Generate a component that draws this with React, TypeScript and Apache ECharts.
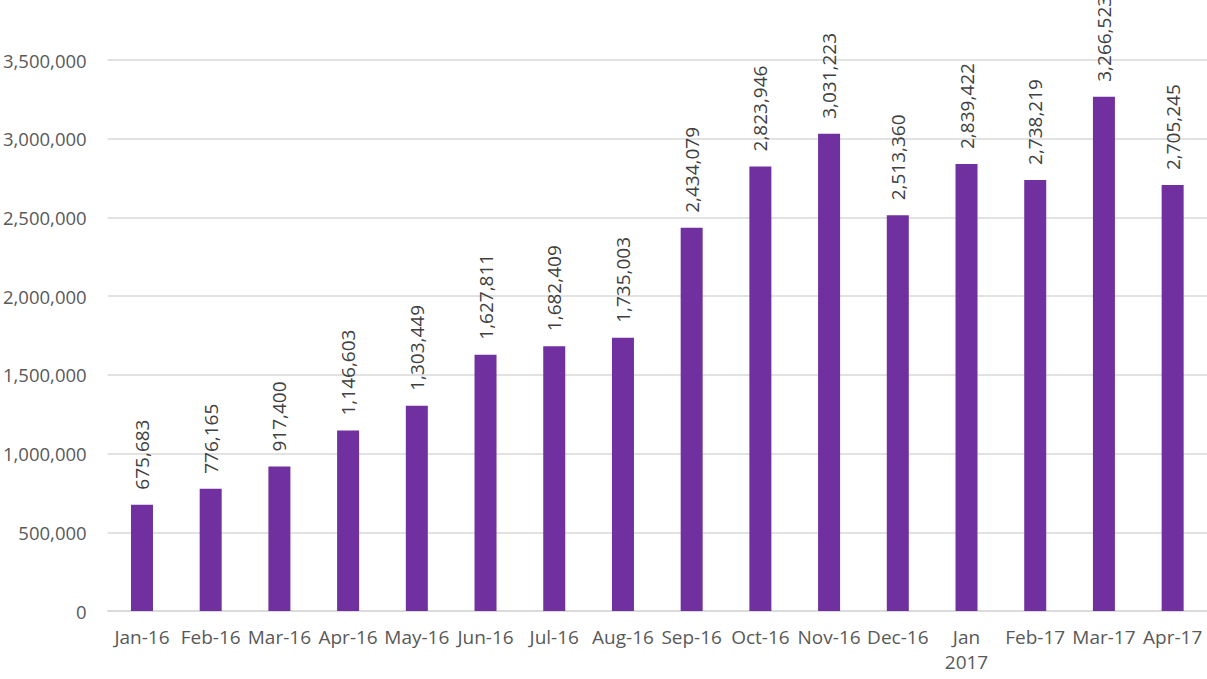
import React, { useEffect, useRef } from "react";
import * as echarts from "echarts";

const categories = [
  "Jan-16", "Feb-16", "Mar-16", "Apr-16", "May-16", "Jun-16", "Jul-16", "Aug-16",
  "Sep-16", "Oct-16", "Nov-16", "Dec-16", "Jan\n2017", "Feb-17", "Mar-17", "Apr-17",
];
const values = [
  675683, 776165, 917400, 1146603, 1303449, 1627811, 1682409, 1735003,
  2434079, 2823946, 3031223, 2513360, 2839422, 2738219, 3266523, 2705245,
];
const yMin = 0;
const yMax = 3500000;
const yStep = 500000;

const FONT = "'Open Sans', 'Noto Sans', sans-serif";

export default function App() {
  const ref = useRef<HTMLDivElement>(null);
  useEffect(() => {
    if (!ref.current) return;
    const chart = echarts.init(ref.current, undefined, { renderer: "svg" });
    const fmt = (v: number) => v.toLocaleString("en-US");
    chart.setOption({
      animation: false,
      grid: { left: 106, right: 0, top: 60, bottom: 68, containLabel: false },
      xAxis: {
        type: "category",
        data: categories,
        axisLine: { show: true, lineStyle: { color: "#d9d9d9", width: 1.5 } },
        axisTick: { show: false },
        axisLabel: {
          color: "#595959",
          fontFamily: FONT,
          fontSize: 19,
          margin: 13,
          interval: 0,
          lineHeight: 25,
        },
      },
      yAxis: {
        type: "value",
        min: yMin,
        max: yMax,
        interval: yStep,
        axisLine: { show: false },
        axisTick: { show: false },
        splitLine: { lineStyle: { color: "#d9d9d9", width: 1.5 } },
        axisLabel: {
          color: "#595959",
          fontFamily: FONT,
          fontSize: 18.5,
          margin: 21,
          formatter: (v: number) => fmt(v),
        },
      },
      series: [
        {
          type: "bar",
          data: values,
          barWidth: 22,
          itemStyle: { color: "#7030A0" },
          label: {
            show: true,
            position: "top",
            rotate: 90,
            align: "left",
            verticalAlign: "middle",
            distance: 15,
            color: "#404040",
            fontFamily: FONT,
            fontSize: 19,
            formatter: (p: any) => fmt(p.value),
          },
        },
      ],
    });
    return () => chart.dispose();
  }, []);
  return (
    <div
      ref={ref}
      style={{ position: "fixed", left: 0, top: 0, width: 1207, height: 679, background: "#fff" }}
    />
  );
}
